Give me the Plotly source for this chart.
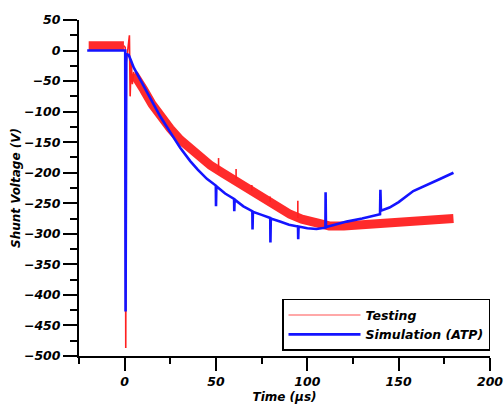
import plotly.graph_objects as go

# ---- Data ----
# Testing (measured) trace: main band centre line
test_x = [-19.7, -10, -0.4, None, 5, 8, 10.4, 15, 19.5, 25, 30.4, 36, 41.4, 47, 54, 60, 66,
          72.3, 80, 85, 90.5, 97, 105, 112, 120, 130, 139, 150, 160, 170, 180]
test_y = [8, 8, 8, None, -38, -50, -64, -88, -108, -128, -146, -161, -176, -188, -201, -212, -224,
          -235, -250, -259, -268, -276, -283, -287, -287, -285, -283, -282, -280, -277, -275]

# Testing trace: fast transients / spikes (thin)
spike_x = [-0.4, 0.3, 0.6, 0.9, 2.6, 3.0, 3.6, 4.2, 5.0, None,
           51.4, 51.4, None, 61.0, 61.0, None, 69.6, 69.6, None, 79.6, 79.6, None, 94.8, 94.8]
spike_y = [8, 5, -487, -20, 25, -75, -15, -55, -35, None,
           -198, -176, None, -210, -194, None, -229, -220, None, -248, -239, None, -274, -246]

# Simulation (ATP)
sim_x = [-20.5, 0.3, 0.5, 0.9, 2.2, 5, 8.6, 14, 19.5, 25, 30.4, 35.9, 40, 45, 49.9, 50, 50.2,
         55, 59.9, 60, 60.2, 65, 69.9, 70, 70.2, 75, 79.7, 79.8, 80, 85, 90, 94.9, 95, 95.2,
         100, 105, 109.9, 110, 110.2, 115, 121.5, 130, 139.8, 140, 140.3, 145, 150, 158, 165,
         172, 180]
sim_y = [0, 0, -427, -6, -7, -28, -48, -77, -108, -134, -159, -181, -195, -210, -221, -255, -222,
         -234, -243, -263, -244, -255, -263, -293, -264, -269, -274, -314, -275, -280, -285, -288, -309, -288,
         -291, -292, -290, -232, -289, -285, -280, -275, -268, -228, -262, -257, -248, -230, -221,
         -211, -200]

legend_names = ["Testing", "Simulation (ATP)"]

FONT = "DejaVu Sans"

fig = go.Figure()
fig.add_trace(go.Scatter(x=test_x, y=test_y, mode="lines", showlegend=False,
                         line=dict(color="#ff1a1a", width=9), opacity=0.92, hoverinfo="skip"))
fig.add_trace(go.Scatter(x=spike_x, y=spike_y, mode="lines", showlegend=False,
                         line=dict(color="#ff2020", width=1.6), hoverinfo="skip"))
fig.add_trace(go.Scatter(x=sim_x, y=sim_y, mode="lines", showlegend=False,
                         line=dict(color="#1414ff", width=2.6)))
# legend entries
fig.add_trace(go.Scatter(x=[None], y=[None], mode="lines", name=legend_names[0],
                         line=dict(color="#ffa8a8", width=2)))
fig.add_trace(go.Scatter(x=[None], y=[None], mode="lines", name=legend_names[1],
                         line=dict(color="#1414ff", width=2.6)))

tickfont = dict(family=FONT, size=12.5, color="black", weight="bold", style="italic")
titlefont = dict(family=FONT, size=12, color="black", weight="bold", style="italic")

fig.update_layout(
    width=504, height=405,
    margin=dict(l=78.5, r=13.7, t=20, b=49, autoexpand=False),
    paper_bgcolor="white", plot_bgcolor="white",
    legend=dict(x=1.0, y=0.015, xanchor="right", yanchor="bottom",
                bgcolor="white", bordercolor="black", borderwidth=1.5,
                font=dict(family=FONT, size=12.5, color="black", weight="bold", style="italic"),
                itemwidth=72, tracegroupgap=0),
    xaxis=dict(range=[-25, 200], tick0=0, dtick=50, showgrid=False, zeroline=False,
               showline=True, linecolor="black", linewidth=2,
               ticks="outside", ticklen=13, tickwidth=2, tickcolor="black",
               minor=dict(ticks="outside", ticklen=6, tickwidth=2, tickcolor="black",
                          dtick=25, tick0=0, showgrid=False),
               tickfont=tickfont,
               title=dict(text="Time (μs)", font=titlefont, standoff=5)),
    yaxis=dict(range=[-500, 50], tick0=0, dtick=50, showgrid=False, zeroline=False,
               showline=True, linecolor="black", linewidth=2,
               ticks="outside", ticklen=14, tickwidth=2, tickcolor="black",
               minor=dict(ticks="outside", ticklen=7, tickwidth=2, tickcolor="black",
                          dtick=25, tick0=0, showgrid=False),
               tickfont=tickfont,
               title=dict(text="Shunt Voltage (V)", font=titlefont, standoff=1)),
)

fig.write_html("out.html")
